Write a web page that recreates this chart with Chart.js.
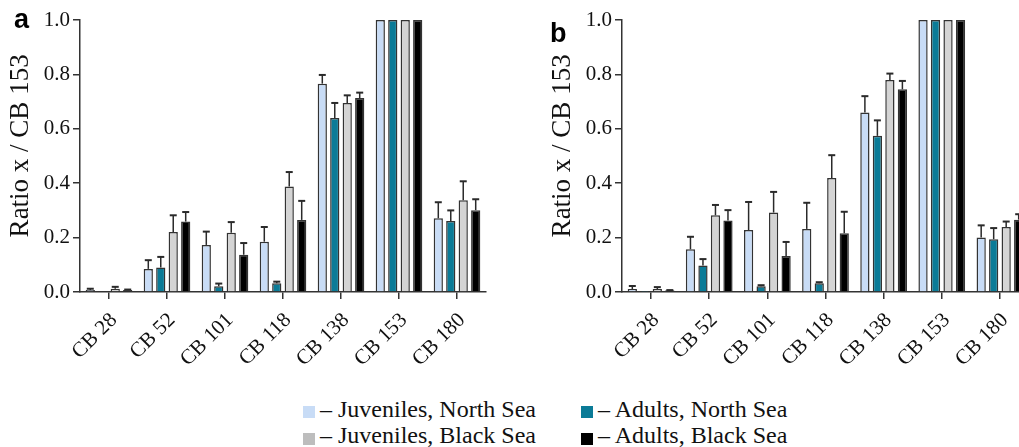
<!DOCTYPE html>
<html>
<head>
<meta charset="utf-8">
<script src="https://cdn.jsdelivr.net/npm/chart.js@4"></script>
<style>
  html, body { margin: 0; padding: 0; background: #fff; overflow: hidden; }
  body { width: 1019px; height: 447px; position: relative; font-family: "Liberation Serif", serif; }
  canvas { position: absolute; top: 0; }
  .panel { position: absolute; font: bold 27px/27px "Liberation Sans", Arial, sans-serif; color: #000; }
  .sq { position: absolute; width: 12px; height: 12px; }
  .lt { position: absolute; font-size: 24px; line-height: 24px; color: #111; white-space: nowrap; }
</style>
</head>
<body>
<canvas id="chartA" width="492" height="390" style="left:0px"></canvas>
<canvas id="chartB" width="490" height="390" style="left:542px"></canvas>
<div class="panel" style="left:14px; top:6px">a</div>
<div class="panel" style="left:550px; top:20px">b</div>

<div class="sq" style="left:303px; top:406px; background:#c8dcf6"></div>
<div class="lt" style="left:320px; top:397px">– Juveniles, North Sea</div>
<div class="sq" style="left:581px; top:406px; background:#0b7b97"></div>
<div class="lt" style="left:598px; top:397px">– Adults, North Sea</div>
<div class="sq" style="left:303px; top:433px; background:#bdbdbd"></div>
<div class="lt" style="left:320px; top:423px">– Juveniles, Black Sea</div>
<div class="sq" style="left:581px; top:433px; background:#000"></div>
<div class="lt" style="left:598px; top:423px">– Adults, Black Sea</div>

<script>
const categories = ['CB 28', 'CB 52', 'CB 101', 'CB 118', 'CB 138', 'CB 153', 'CB 180'];
const yTicks = [0, 0.2, 0.4, 0.6, 0.8, 1.0];

// panel a
const juvNorthA = [0.007, 0.085, 0.173, 0.185, 0.766, 1.0, 0.271];
const juvNorthErrA = [0.005, 0.032, 0.049, 0.054, 0.032, 0, 0.059];
const adNorthA = [0.002, 0.090, 0.021, 0.032, 0.640, 1.0, 0.261];
const adNorthErrA = [0, 0.039, 0.010, 0.006, 0.055, 0, 0.039];
const juvBlackA = [0.012, 0.221, 0.218, 0.388, 0.695, 1.0, 0.337];
const juvBlackErrA = [0.007, 0.061, 0.039, 0.053, 0.028, 0, 0.070];
const adBlackA = [0.007, 0.259, 0.137, 0.265, 0.713, 1.0, 0.301];
const adBlackErrA = [0.002, 0.035, 0.043, 0.070, 0.020, 0, 0.040];

// panel b
const juvNorthB = [0.011, 0.157, 0.228, 0.232, 0.660, 1.0, 0.200];
const juvNorthErrB = [0.011, 0.046, 0.103, 0.096, 0.060, 0, 0.045];
const adNorthB = [0.001, 0.097, 0.021, 0.032, 0.574, 1.0, 0.194];
const adNorthErrB = [0, 0.024, 0.004, 0.004, 0.057, 0, 0.041];
const juvBlackB = [0.011, 0.282, 0.292, 0.419, 0.779, 1.0, 0.239];
const juvBlackErrB = [0.007, 0.038, 0.076, 0.084, 0.024, 0, 0.020];
const adBlackB = [0.006, 0.263, 0.132, 0.216, 0.745, 1.0, 0.266];
const adBlackErrB = [0.001, 0.038, 0.052, 0.079, 0.031, 0, 0.020];

const colors = ['#c8dcf6', '#0b7b97', '#d4d4d4', '#000000'];
const names = ['Juveniles, North Sea', 'Adults, North Sea', 'Juveniles, Black Sea', 'Adults, Black Sea'];

Chart.defaults.font.family = '"Liberation Serif", "Times New Roman", serif';
Chart.defaults.color = '#111';

// upper error bars drawn on top of the bars
const errorBars = {
  id: 'errorBars',
  afterDatasetsDraw(chart) {
    const ctx = chart.ctx;
    const yScale = chart.scales.y;
    chart.data.datasets.forEach((ds, i) => {
      const meta = chart.getDatasetMeta(i);
      meta.data.forEach((bar, j) => {
        const e = ds.errors[j];
        if (!e) return;
        const top = yScale.getPixelForValue(ds.data[j] + e);
        ctx.save();
        ctx.strokeStyle = '#2a2a2a';
        ctx.lineWidth = 1.5;
        ctx.beginPath();
        ctx.moveTo(bar.x, bar.y);
        ctx.lineTo(bar.x, top);
        ctx.stroke();
        ctx.lineWidth = 2;
        ctx.beginPath();
        ctx.moveTo(bar.x - 3.5, top);
        ctx.lineTo(bar.x + 3.5, top);
        ctx.stroke();
        ctx.restore();
      });
    });
  }
};

function makeChart(id, series, errs, rightPad) {
  const datasets = series.map((data, i) => ({
    label: names[i],
    data: data,
    errors: errs[i],
    backgroundColor: colors[i],
    borderColor: '#333',
    borderWidth: 1.5,
    categoryPercentage: 0.86,
    barPercentage: 0.74
  }));

  return new Chart(document.getElementById(id), {
    type: 'bar',
    data: { labels: categories, datasets: datasets },
    options: {
      responsive: false,
      animation: false,
      layout: { padding: { top: 20, right: rightPad, left: 0, bottom: 0 } },
      plugins: {
        legend: { display: false },
        tooltip: { enabled: false }
      },
      scales: {
        x: {
          offset: true,
          grid: { display: true, drawOnChartArea: false, offset: false, tickLength: 7, color: '#333', lineWidth: 1.5 },
          border: { color: '#333', width: 1.5 },
          ticks: { minRotation: 45, maxRotation: 45, padding: 9, labelOffset: 5, color: '#111', font: { size: 21 } },
          afterFit(scale) { scale.height = 98; }
        },
        y: {
          min: 0,
          max: 1,
          afterBuildTicks(scale) { scale.ticks = yTicks.map(v => ({ value: v })); },
          grid: { display: true, drawOnChartArea: false, tickLength: 7, color: '#333', lineWidth: 1.5 },
          border: { color: '#333', width: 1.5 },
          ticks: {
            padding: 3,
            color: '#111',
            font: { size: 21 },
            callback: v => v.toFixed(1)
          },
          title: {
            display: true,
            // leading spaces nudge the centred title upward like the original
            text: '   Ratio x / CB 153',
            color: '#111',
            font: { size: 27 },
            padding: { top: 5, bottom: 0 }
          },
          afterFit(scale) { scale.width = 80; }
        }
      }
    },
    plugins: [errorBars]
  });
}

makeChart('chartA',
  [juvNorthA, adNorthA, juvBlackA, adBlackA],
  [juvNorthErrA, adNorthErrA, juvBlackErrA, adBlackErrA], 6);

makeChart('chartB',
  [juvNorthB, adNorthB, juvBlackB, adBlackB],
  [juvNorthErrB, adNorthErrB, juvBlackErrB, adBlackErrB], 3);
</script>
</body>
</html>
